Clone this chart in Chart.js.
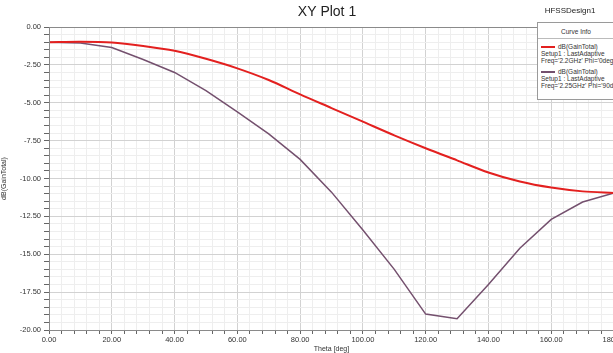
<!DOCTYPE html>
<html>
<head>
  <title>XY Plot 1</title>
  <script src="https://cdn.jsdelivr.net/npm/chart.js"></script>
  <style>
    body { margin: 0; overflow: hidden; background: #fff; }
    #wrap { position: relative; width: 640px; height: 353px; }
    #legend {
      position: absolute; left: 537px; top: 22px; width: 90px; height: 76px;
      border: 1px solid #9a9a9a; background: #fff;
      font-family: "Liberation Sans Narrow", "Liberation Sans", Arial, sans-serif;
      font-size: 6.5px; color: #333; line-height: 7px;
    }
    #legend .head { text-align: center; width: 76px; padding: 5px 0 3px; border-bottom: 1px solid #bbb; }
    #legend .item { padding: 4px 0 0 3px; }
    #legend .swatch { display: inline-block; width: 14px; height: 0; vertical-align: middle; margin-right: 3px; }
  </style>
</head>
<body>
  <div id="wrap">
    <canvas id="myChart"></canvas>
    <div id="legend">
      <div class="head">Curve Info</div>
      <div class="item"><span class="swatch" style="border-top: 2px solid #e3201f;"></span>dB(GainTotal)<br>Setup1 : LastAdaptive<br>Freq='2.2GHz' Phi='0deg'</div>
      <div class="item"><span class="swatch" style="border-top: 2px solid #74506e;"></span>dB(GainTotal)<br>Setup1 : LastAdaptive<br>Freq='2.25GHz' Phi='90deg'</div>
    </div>
  </div>

  <script>
    // theta sweep in degrees
    const thetaDeg = [0, 10, 20, 30, 40, 50, 60, 70, 80, 90, 100, 110, 120, 130, 140, 150, 160, 170, 180];
    // dB(GainTotal), Freq=2.2GHz Phi=0deg
    const gainPhi0 = [-1.0, -0.97, -1.02, -1.25, -1.57, -2.1, -2.73, -3.5, -4.45, -5.35, -6.25, -7.15, -8.0, -8.8, -9.6, -10.2, -10.6, -10.85, -10.95];
    // dB(GainTotal), Freq=2.25GHz Phi=90deg
    const gainPhi90 = [-1.0, -1.05, -1.35, -2.15, -3.0, -4.2, -5.6, -7.05, -8.74, -10.9, -13.4, -16.0, -18.95, -19.25, -17.0, -14.6, -12.7, -11.55, -10.95];

    const xMajor = 20, yMajor = 2.5;
    const font = { family: '"Liberation Sans Narrow", "Liberation Sans", Arial, sans-serif', size: 7.5 };

    function isMajor(v, step) {
      const r = Math.abs(v / step - Math.round(v / step));
      return r < 1e-6;
    }

    // title, design name and frame
    const decor = {
      id: 'decor',
      afterDraw(chart) {
        const c = chart.ctx, a = chart.chartArea;
        c.save();
        c.strokeStyle = '#8a8a8a';
        c.lineWidth = 1;
        c.strokeRect(a.left + 0.5, a.top + 0.5, a.right - a.left, a.bottom - a.top);
        c.fillStyle = '#222';
        c.textAlign = 'center';
        c.textBaseline = 'middle';
        c.font = '14px "Liberation Sans Narrow", "Liberation Sans", Arial, sans-serif';
        c.fillText('XY Plot 1', 327, 12);
        c.font = '8px "Liberation Sans Narrow", "Liberation Sans", Arial, sans-serif';
        c.fillText('HFSSDesign1', 570, 11);
        c.restore();
      }
    };

    const ctx = document.getElementById('myChart').getContext('2d');
    const myChart = new Chart(ctx, {
      type: 'scatter',
      data: {
        datasets: [
          {
            label: "Freq='2.2GHz' Phi='0deg'",
            data: thetaDeg.map((t, i) => ({ x: t, y: gainPhi0[i] })),
            borderColor: '#e3201f',
            borderWidth: 2,
            showLine: true,
            pointRadius: 0,
            tension: 0.3
          },
          {
            label: "Freq='2.25GHz' Phi='90deg'",
            data: thetaDeg.map((t, i) => ({ x: t, y: gainPhi90[i] })),
            borderColor: '#74506e',
            borderWidth: 1.5,
            showLine: true,
            pointRadius: 0,
            tension: 0
          }
        ]
      },
      options: {
        responsive: true,
        maintainAspectRatio: false,
        animation: false,
        layout: { padding: { top: 27, right: 26, left: 0, bottom: 0 } },
        plugins: { legend: { display: false }, tooltip: { enabled: false } },
        scales: {
          x: {
            type: 'linear', min: 0, max: 180,
            afterFit(scale) { scale.height = 23; },
            border: { color: '#666' },
            grid: {
              color: (c) => isMajor(c.tick.value, xMajor) ? '#d2d2d2' : '#eeeeee',
              tickColor: '#666', tickLength: 4
            },
            ticks: {
              stepSize: 4, autoSkip: false, maxRotation: 0, padding: 1,
              color: '#333', font: font,
              callback: (v) => isMajor(v, xMajor) ? v.toFixed(2) : ''
            },
            title: { display: true, text: 'Theta [deg]', color: '#333', font: { family: font.family, size: 7 }, padding: 0 }
          },
          y: {
            type: 'linear', min: -20, max: 0,
            afterFit(scale) { scale.width = 49; },
            border: { color: '#666' },
            grid: {
              color: (c) => isMajor(c.tick.value, yMajor) ? '#d2d2d2' : '#eeeeee',
              tickColor: '#666', tickLength: 5
            },
            ticks: {
              stepSize: 0.5, autoSkip: false, padding: 3,
              color: '#333', font: font,
              callback: (v) => isMajor(v, yMajor) ? v.toFixed(2) : ''
            },
            title: { display: true, text: 'dB(GainTotal)', color: '#333', font: { family: font.family, size: 7 }, padding: 0 }
          }
        }
      },
      plugins: [decor]
    });
  </script>
</body>
</html>
